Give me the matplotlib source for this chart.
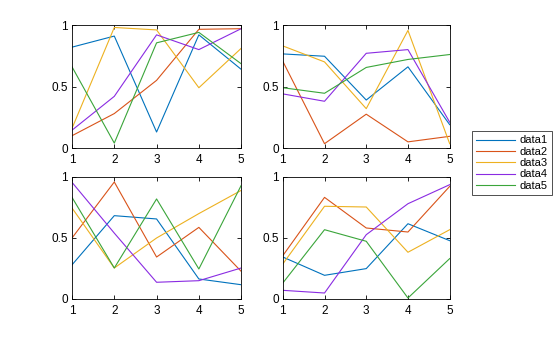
import matplotlib
matplotlib.use('Agg')
import matplotlib.pyplot as plt

plt.rcParams['font.family'] = ['Liberation Sans', 'DejaVu Sans']

x = [1, 2, 3, 4, 5]
names = ['data1', 'data2', 'data3', 'data4', 'data5']
colors = ['#0072bd', '#d95319', '#edb120', '#8a2be2', '#3aa53a']

# one list of 5 series per panel, order: data1..data5
panel1 = [
    [0.82, 0.91, 0.13, 0.92, 0.64],
    [0.10, 0.28, 0.55, 0.965, 0.97],
    [0.16, 0.98, 0.96, 0.49, 0.81],
    [0.145, 0.42, 0.92, 0.80, 0.97],
    [0.66, 0.04, 0.855, 0.94, 0.685],
]
panel2 = [
    [0.765, 0.746, 0.39, 0.66, 0.19],
    [0.705, 0.035, 0.275, 0.05, 0.095],
    [0.83, 0.70, 0.32, 0.956, 0.035],
    [0.44, 0.38, 0.77, 0.80, 0.21],
    [0.49, 0.445, 0.655, 0.72, 0.76],
]
panel3 = [
    [0.28, 0.683, 0.656, 0.164, 0.117],
    [0.50, 0.959, 0.344, 0.587, 0.227],
    [0.746, 0.254, 0.50, 0.70, 0.89],
    [0.956, 0.54, 0.137, 0.15, 0.254],
    [0.833, 0.254, 0.82, 0.246, 0.93],
]
panel4 = [
    [0.344, 0.194, 0.249, 0.617, 0.478],
    [0.355, 0.833, 0.582, 0.549, 0.923],
    [0.287, 0.76, 0.754, 0.383, 0.568],
    [0.071, 0.049, 0.527, 0.781, 0.937],
    [0.131, 0.568, 0.473, 0.008, 0.331],
]
panels = [panel1, panel2, panel3, panel4]

positions = [
    [0.1286, 0.5608, 0.302, 0.365],
    [0.505, 0.5608, 0.298, 0.365],
    [0.1286, 0.1128, 0.302, 0.362],
    [0.505, 0.1128, 0.298, 0.362],
]

fig = plt.figure(figsize=(5.6, 3.37), dpi=100)

handles = []
for pos, data in zip(positions, panels):
    ax = fig.add_axes(pos)
    handles = []
    for ys, c, n in zip(data, colors, names):
        h, = ax.plot(x, ys, color=c, lw=0.8, label=n)
        handles.append(h)
    ax.set_xlim(1, 5)
    ax.set_ylim(0, 1)
    ax.set_xticks(x)
    ax.set_yticks([0, 0.5, 1])
    ax.set_yticklabels(['0', '0.5', '1'])
    ax.tick_params(direction='in', length=3, width=0.6, labelsize=8.5,
                   top=True, right=True)
    ax.tick_params(axis='x', pad=4)
    ax.tick_params(axis='y', pad=3)
    for s in ax.spines.values():
        s.set_linewidth(0.6)

leg = fig.legend(handles, names, loc='upper left',
                 bbox_to_anchor=(472 / 560, 1 - 131 / 337),
                 fontsize=8, frameon=True, fancybox=False, edgecolor='black',
                 borderpad=0.4, labelspacing=0.12, handlelength=3.5,
                 handletextpad=0.4, borderaxespad=0)
leg.get_frame().set_linewidth(0.6)

fig.savefig('out.png', dpi=100)
